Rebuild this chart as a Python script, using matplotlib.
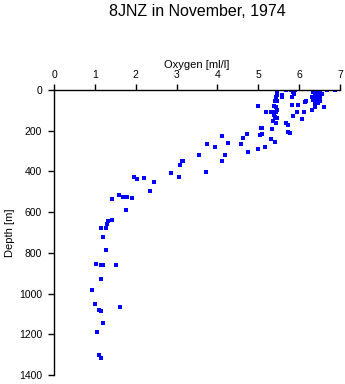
import matplotlib
matplotlib.use("Agg")
import matplotlib.pyplot as plt

title = "8JNZ in November, 1974"
xlabel = "Oxygen [ml/l]"
ylabel = "Depth [m]"
xticks = [0, 1, 2, 3, 4, 5, 6, 7]
yticks = [0, 200, 400, 600, 800, 1000, 1200, 1400]

oxygen = [5.46, 5.47, 5.43, 5.57, 5.57, 5.41, 5.47, 5.67, 5.79, 5.90, 5.85, 5.88, 5.82,
          6.16, 6.14, 6.34, 6.39, 6.44, 6.49, 6.50, 6.41, 6.44, 6.52, 6.32, 6.42, 6.52,
          6.68, 6.88, 6.36, 6.46, 6.38, 6.48, 6.55, 6.35, 6.47, 6.40,
          4.99, 5.39, 5.43, 5.82, 5.98, 6.39, 6.60, 6.31, 5.20, 5.31, 5.37, 5.43, 5.47,
          5.95, 6.13, 5.39, 5.41, 5.46, 5.85, 6.08, 5.37, 5.43, 5.69, 5.72, 5.07, 5.10,
          5.34, 5.72, 5.77, 5.03, 5.10, 5.31, 5.41, 5.16, 4.99, 4.72, 4.63, 4.58, 4.74,
          4.12, 4.27, 3.94, 3.75, 4.19, 4.10, 3.55, 3.13, 3.16, 3.08, 2.86, 3.06, 3.71,
          1.97, 2.02, 2.21, 2.44, 2.34, 1.41, 1.59, 1.69, 1.79, 1.90, 1.75, 1.41,
          1.33, 1.30, 1.15, 1.28, 1.20, 1.28, 1.04, 1.16, 1.20, 1.51, 1.15, 0.94, 1.00,
          1.10, 1.14, 1.61, 1.20, 1.05, 1.10, 1.15]

depth = [11, 25, 33, 25, 36, 54, 54, 2, 2, 2, 11, 20, 33,
         52, 57, 10, 16, 23, 30, 36, 41, 56, 56, 33, 2, 2,
         2, 2, 5, 8, 28, 45, 20, 48, 62, 65,
         79, 80, 82, 74, 75, 82, 82, 98, 106, 106, 108, 106, 98,
         110, 110, 121, 134, 136, 129, 144, 154, 160, 164, 174, 185, 187,
         192, 208, 213, 219, 216, 241, 257, 282, 290, 218, 237, 267, 305,
         226, 260, 282, 265, 321, 349, 321, 347, 347, 368, 409, 426, 401,
         429, 436, 434, 454, 498, 535, 514, 527, 527, 532, 591, 639,
         642, 660, 678, 680, 724, 788, 856, 861, 861, 861, 930, 984, 1051,
         1081, 1087, 1068, 1146, 1187, 1300, 1318]

plt.rcParams['font.family'] = ['Liberation Sans', 'DejaVu Sans']

fig = plt.figure(figsize=(3.45, 3.84), dpi=100)
ax = fig.add_axes([54/345, 1 - 375/384, 286/345, 285/384])

ax.scatter(oxygen, depth, marker='s', s=6, color='#0000ff', linewidths=0)

ax.set_xlim(0, 7)
ax.set_ylim(1400, 0)
ax.set_xticks(xticks)
ax.set_yticks(yticks)
ax.xaxis.tick_top()
ax.xaxis.set_label_position('top')
ax.spines['right'].set_visible(False)
ax.spines['bottom'].set_visible(False)
ax.spines['top'].set_linewidth(1)
ax.spines['left'].set_linewidth(1)
ax.tick_params(axis='x', direction='out', length=4, width=1, pad=3, labelsize=7.5)
ax.tick_params(axis='y', direction='out', length=4.5, width=1, pad=4, labelsize=7.5)
ax.set_xlabel(xlabel, fontsize=8, labelpad=2)
ax.set_ylabel(ylabel, fontsize=8, labelpad=3)
fig.text(197/345, 1 - 12/384, title, ha='center', va='center', fontsize=11.5)

fig.savefig("out.png", dpi=100)
